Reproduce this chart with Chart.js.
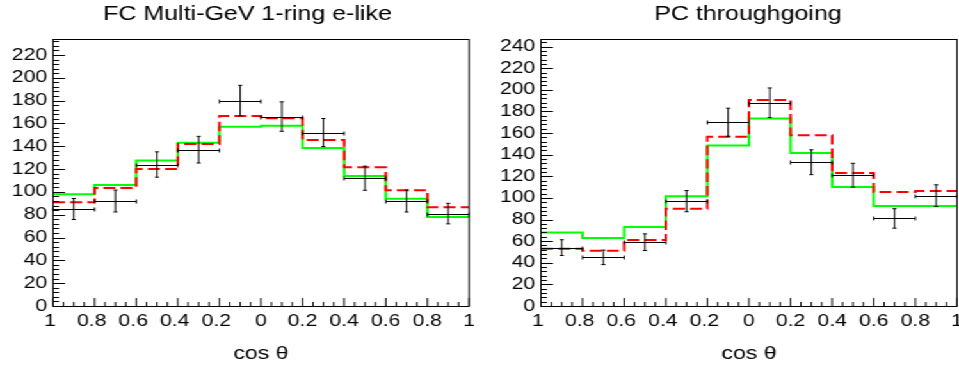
<!DOCTYPE html>
<html lang="en">
<head>
<meta charset="UTF-8">
<title>cos theta distributions</title>
<script src="https://cdn.jsdelivr.net/npm/chart.js"></script>
<style>
  html, body { margin: 0; padding: 0; background: #fff; overflow: hidden; }
  /* the reference is a horizontally stretched ROOT canvas, so draw narrow and stretch */
  #wrap { display: flex; width: 749px; height: 367px; transform: scaleX(1.28037); transform-origin: 0 0; }
  #wrap canvas { flex: none; }
</style>
</head>
<body>
<div id="wrap"><canvas id="fcChart" width="375" height="367"></canvas><canvas id="pcChart" width="374" height="367"></canvas></div>
<script>
// bin edges in cos(theta) and the axis labels (the minus signs are missing in the original)
const binEdges = [-1, -0.8, -0.6, -0.4, -0.2, 0, 0.2, 0.4, 0.6, 0.8, 1];
const xTickValues = [-1, -0.8, -0.6, -0.4, -0.2, 0, 0.2, 0.4, 0.6, 0.8, 1];
const xTickLabels = ['1 ', '0.8 ', '0.6 ', '0.4 ', '0.2 ', '0', '0.2', '0.4', '0.6', '0.8', '1'];

// FC Multi-GeV 1-ring e-like
const fcData   = [85, 92, 124, 137, 180, 166, 152, 112, 92, 81];
const fcErr    = [9.2, 9.6, 11.1, 11.7, 13.4, 12.9, 12.3, 10.6, 9.6, 9.0];
const fcGreen  = [98, 106, 127.5, 143, 157, 158, 138.5, 114, 94, 78];
const fcRed    = [91, 103.5, 120, 142, 166.5, 164.5, 145.5, 121.5, 101.5, 86.5];

// PC throughgoing
const pcData   = [54, 45, 59, 97, 170, 188, 133, 121, 81, 102];
const pcErr    = [7.3, 6.7, 7.7, 9.8, 13.0, 13.7, 11.5, 11.0, 9.0, 10.1];
const pcGreen  = [68, 63, 73, 101.5, 148.5, 173.5, 141.5, 110, 92.5, 92.5];
const pcRed    = [53, 51, 61, 90, 156.5, 190.5, 158, 123, 105.5, 106.5];

const FONT = '"Liberation Sans", Arial, sans-serif';
Chart.defaults.font.family = FONT;
Chart.defaults.color = '#000';

// histogram outline: one point per left edge, plus the closing right edge
function steps(vals) {
  const pts = vals.map((v, i) => ({ x: binEdges[i], y: v }));
  pts.push({ x: binEdges[binEdges.length - 1], y: vals[vals.length - 1] });
  return pts;
}

// data points with error bars, frame, inward ticks and the pad title
function rootStyle(counts, errors, title, titleX) {
  return {
    id: 'rootStyle',
    afterDatasetsDraw(chart) {
      const { ctx, chartArea: a, scales: { x, y } } = chart;
      ctx.save();
      ctx.strokeStyle = '#000';
      ctx.lineWidth = 1;

      ctx.beginPath();
      counts.forEach((n, i) => {
        const x0 = x.getPixelForValue(binEdges[i]);
        const x1 = x.getPixelForValue(binEdges[i + 1]);
        const xc = (x0 + x1) / 2;
        const yc = Math.round(y.getPixelForValue(n)) + 0.5;
        const yt = y.getPixelForValue(n + errors[i]);
        const yb = y.getPixelForValue(n - errors[i]);
        ctx.moveTo(x0, yc); ctx.lineTo(x1, yc);
        ctx.moveTo(x0, yc - 2); ctx.lineTo(x0, yc + 2);
        ctx.moveTo(x1, yc - 2); ctx.lineTo(x1, yc + 2);
        ctx.moveTo(xc, yt); ctx.lineTo(xc, yb);
        ctx.moveTo(xc - 1.6, yt); ctx.lineTo(xc + 1.6, yt);
        ctx.moveTo(xc - 1.6, yb); ctx.lineTo(xc + 1.6, yb);
      });
      ctx.stroke();

      // frame
      ctx.strokeRect(a.left, a.top + 0.5, a.right - a.left, a.bottom - a.top);

      // ticks pointing into the frame
      ctx.beginPath();
      for (let i = 0; i <= 40; i++) {
        const px = x.getPixelForValue(-1 + i * 0.05);
        const len = i % 4 === 0 ? 8 : 4;
        ctx.moveTo(px, a.bottom); ctx.lineTo(px, a.bottom - len);
      }
      for (let v = 0; v <= y.max; v += 4) {
        const py = Math.round(y.getPixelForValue(v)) + 0.5;
        const len = v % 20 === 0 ? 9.4 : 4.7;
        ctx.moveTo(a.left, py); ctx.lineTo(a.left + len, py);
      }
      ctx.stroke();

      ctx.fillStyle = '#000';
      ctx.font = '19.5px ' + FONT;
      ctx.textAlign = 'center';
      ctx.textBaseline = 'alphabetic';
      ctx.fillText(title, titleX, 20);
      ctx.restore();
    }
  };
}

function makeChart(id, o) {
  return new Chart(document.getElementById(id), {
    type: 'line',
    data: {
      datasets: [
        { label: 'red', data: steps(o.red), borderColor: '#ff0000', borderWidth: 2,
          borderDash: [9.4, 4], stepped: 'before', pointRadius: 0, fill: false },
        { label: 'green', data: steps(o.green), borderColor: '#00ff00', borderWidth: 2,
          stepped: 'before', pointRadius: 0, fill: false }
      ]
    },
    options: {
      responsive: false,
      animation: false,
      devicePixelRatio: 1,
      layout: { padding: { left: 0, top: 39, right: o.padRight, bottom: 0 } },
      plugins: { legend: { display: false }, tooltip: { enabled: false } },
      scales: {
        x: {
          type: 'linear', min: -1, max: 1,
          grid: { display: false, drawTicks: false }, border: { display: false },
          afterBuildTicks: s => { s.ticks = xTickValues.map(v => ({ value: v })); },
          afterFit: s => { s.height = 61; s.paddingLeft = 0; s.paddingRight = 0; },
          ticks: { autoSkip: false, maxRotation: 0, padding: 6, font: { size: 16.5 },
                   callback: (v, i) => xTickLabels[i] },
          title: { display: true, text: 'cos θ', font: { size: 18 }, padding: { top: 0, bottom: 2 } }
        },
        y: {
          min: 0, max: o.yMax,
          grid: { display: false, drawTicks: false }, border: { display: false },
          afterFit: s => { s.width = o.plotLeft; s.paddingTop = 0; s.paddingBottom = 0; },
          ticks: { stepSize: 20, includeBounds: false, autoSkip: false, padding: 4.5, font: { size: 16.5 } }
        }
      }
    },
    plugins: [rootStyle(o.data, o.err, o.title, o.titleX)]
  });
}

makeChart('fcChart', {
  data: fcData, err: fcErr, green: fcGreen, red: fcRed,
  title: 'FC Multi-GeV 1-ring e-like', titleX: 193.3,
  yMax: 234, plotLeft: 41.4, padRight: 8.7
});

makeChart('pcChart', {
  data: pcData, err: pcErr, green: pcGreen, red: pcRed,
  title: 'PC throughgoing', titleX: 209.2,
  yMax: 247, plotLeft: 47.5, padRight: 1.6
});
</script>
</body>
</html>
